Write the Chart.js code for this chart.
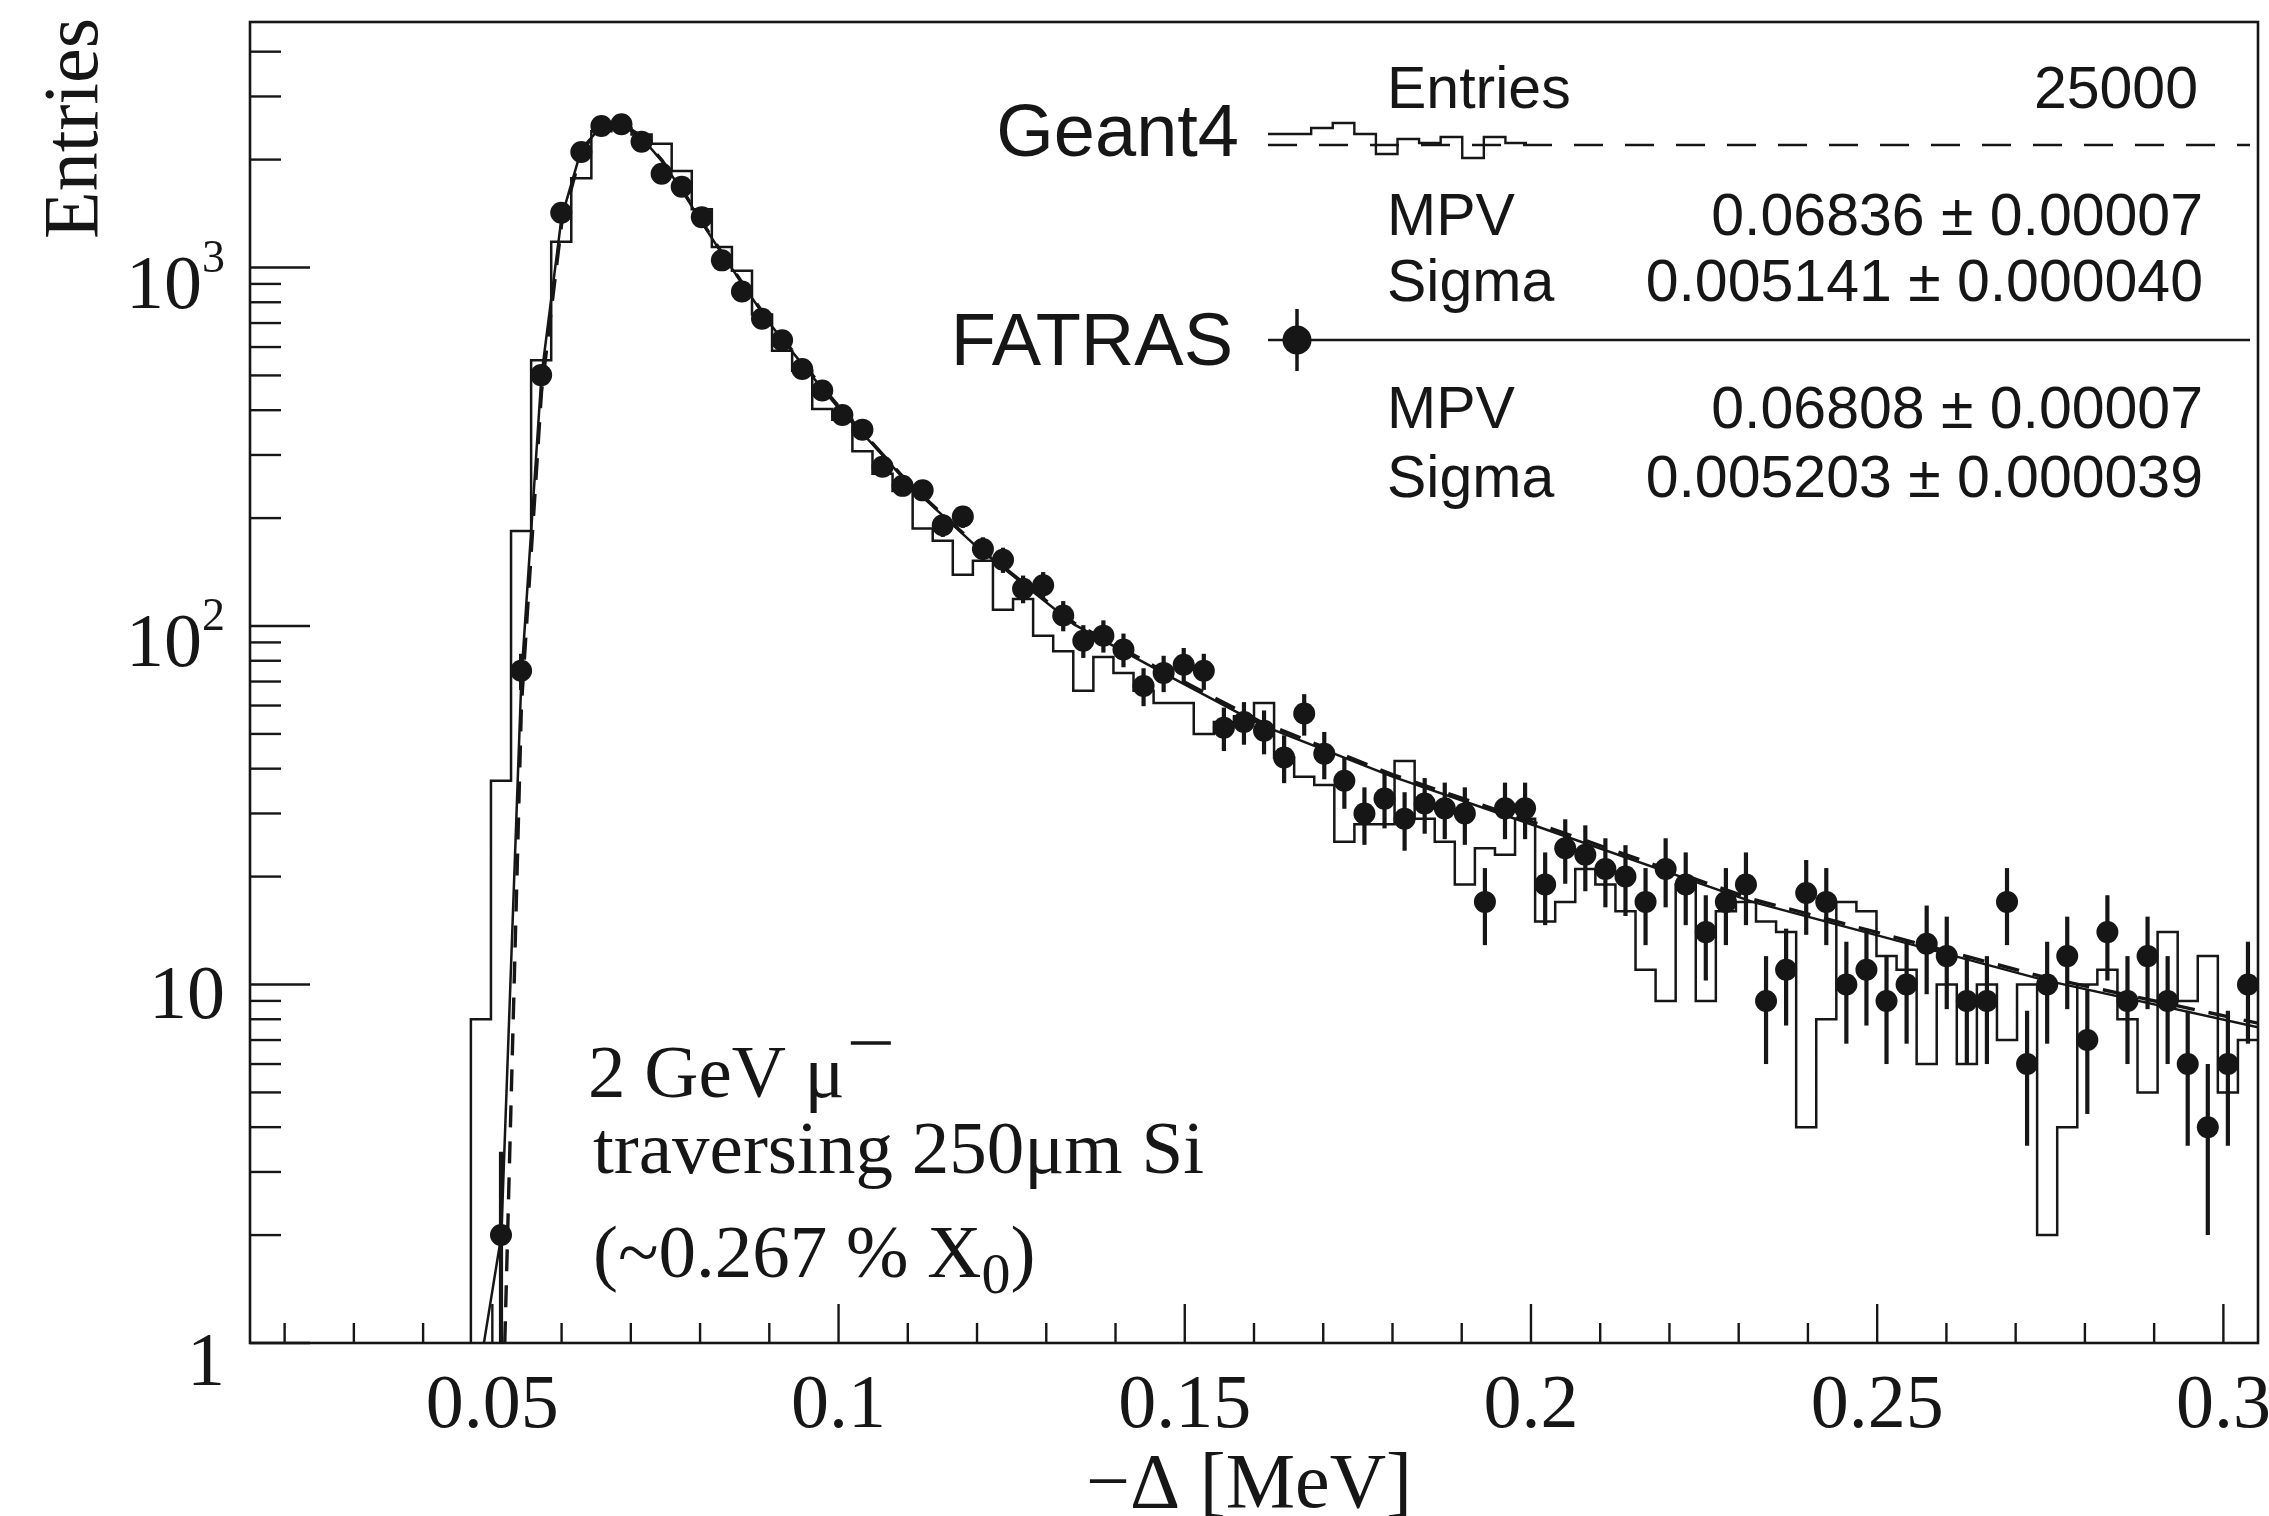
<!DOCTYPE html>
<html>
<head>
<meta charset="utf-8">
<title>Energy loss: Geant4 vs FATRAS</title>
<style>
  html,body{margin:0;padding:0;background:#fff;}
  canvas{display:block;}
</style>
<script src="https://cdn.jsdelivr.net/npm/chart.js@4.4.1/dist/chart.umd.min.js"></script>
</head>
<body>
<canvas id="landau" width="2269" height="1516" style="width:2269px;height:1516px"></canvas>
<script>
// Binning of both histograms
const xMin = 0.015, xMax = 0.305, nBins = 100;

// Geant4 histogram (entries per bin)
const geant4Counts = [
  0,0,0,0,0,0,0,0,0,0,
  0,8,37,184,551,1180,1775,2400,2450,2350,
  2215,1860,1455,1140,980,740,586,515,403,376,
  307,266,238,187,173,139,152,111,119,94,
  85,66,82,74,66,61,61,50,54,56,
  61,43,38,36,25,28,28,42,29,25,
  19,24,23,29,15,17,21,19,16,11,
  9,19,9,16,17,15,14,4,8,17,
  16,12,11,6,10,6,10,7,10,2,
  4,10,11,8,5,14,9,12,5,7
];

// FATRAS points (entries per bin)
const fatrasCounts = [
  0,0,0,0,0,0,0,0,0,0,
  0,0,2,75,501,1421,2099,2482,2510,2244,
  1827,1680,1382,1047,857,720,627,521,454,388,
  353,278,246,239,191,202,164,153,127,130,
  107,91,94,86,68,74,78,75,52,54,
  51,43,57,44,37,30,33,29,32,31,
  30,17,31,31,19,24,23,21,20,17,
  21,19,14,17,19,9,11,18,17,10,
  11,9,10,13,12,9,9,17,6,10,
  12,7,14,9,12,9,6,4,6,10
];

// Landau fit curves
const fitX      = [0.0484,0.0513,0.0542,0.0571,0.0600,0.0629,0.0658,0.0687,0.0716,0.0745,0.0774,0.0803,0.0832,0.0861,0.090,0.095,0.100,0.105,0.110,0.120,0.134,0.148,0.161,0.180,0.200,0.232,0.274,0.305];
const fitFatras = [0.9,2.0,72,500,1380,2150,2480,2500,2300,1980,1640,1330,1090,900,700,530,405,320,250,166,101,72,53,38,28,17,10.3,7.6];
const fitGeant4 = [0.2,0.43,60,450,1320,2120,2470,2520,2320,1990,1650,1340,1095,905,705,535,410,322,252,167,102,73,54,38.5,28.5,17.3,10.5,7.8];

// Axis ticks
const xTickValues = [0.05,0.1,0.15,0.2,0.25,0.3];
const xTickLabels = ['0.05','0.1','0.15','0.2','0.25','0.3'];
const yTickValues = [1,10,100,1000];
const yTickLabels = [['1',''],['10',''],['10','2'],['10','3']];
const yMax = 4840;

// Stats box text
const statsGeant4 = [['Entries','25000'],['MPV','0.06836 \u00b1 0.00007'],['Sigma','0.005141 \u00b1 0.000040']];
const statsFatras = [['MPV','0.06808 \u00b1 0.00007'],['Sigma','0.005203 \u00b1 0.000039']];
const legendStepGlyph = [-11,-11,-17,-22,-11,9,-6,-2,-8,13,-8,-2];

const SERIF = '"Liberation Serif","Times New Roman",serif';
const SANS = '"Liberation Sans",Arial,Helvetica,sans-serif';
const INK = '#161616';

const binWidth = (xMax - xMin) / nBins;
const binCenters = geant4Counts.map((_, i) => xMin + (i + 0.5) * binWidth);
const floorZero = v => (v > 0 ? v : 0.05); // empty bins sit below the log axis

const histPoints = [{x: xMin, y: floorZero(geant4Counts[0])}]
  .concat(binCenters.map((x, i) => ({x, y: floorZero(geant4Counts[i])})))
  .concat([{x: xMax, y: floorZero(geant4Counts[nBins - 1])}]);
const fatrasPoints = binCenters.map((x, i) => ({x, y: fatrasCounts[i]})).filter(p => p.y > 0);

// Poisson error bars under the FATRAS markers
const errorBars = {
  id: 'errorBars',
  beforeDatasetDraw(chart, args){
    if(chart.data.datasets[args.index].label !== 'FATRAS') return;
    const {ctx, chartArea: a, scales: {x, y}} = chart;
    ctx.save();
    ctx.beginPath();
    ctx.rect(a.left, a.top, a.right - a.left, a.bottom - a.top);
    ctx.clip();
    ctx.strokeStyle = INK;
    ctx.lineWidth = 4.2;
    fatrasPoints.forEach(p=>{
      const e = Math.sqrt(p.y);
      const px = x.getPixelForValue(p.x);
      const lo = p.y - e > 0 ? y.getPixelForValue(p.y - e) : a.bottom + 10;
      ctx.beginPath();
      ctx.moveTo(px, lo);
      ctx.lineTo(px, y.getPixelForValue(p.y + e));
      ctx.stroke();
    });
    ctx.restore();
  }
};

function line(ctx, x1, y1, x2, y2){
  ctx.beginPath(); ctx.moveTo(x1, y1); ctx.lineTo(x2, y2); ctx.stroke();
}

// ROOT-style frame, inward ticks and labels
const rootAxes = {
  id: 'rootAxes',
  afterDraw(chart){
    const {ctx, chartArea: a, scales: {x, y}} = chart;
    ctx.save();
    ctx.strokeStyle = INK;
    ctx.fillStyle = INK;
    ctx.lineWidth = 2.6;
    ctx.strokeRect(a.left, a.top, a.right - a.left, a.bottom - a.top);

    ctx.lineWidth = 2.4;
    for(let i = 2; i <= 30; i++){
      const px = x.getPixelForValue(i / 100);
      line(ctx, px, a.bottom, px, a.bottom - (i % 5 === 0 ? 39 : 20));
    }
    for(let d = 0; d <= 3; d++){
      for(let m = 1; m <= 9; m++){
        const v = m * Math.pow(10, d);
        if(v > yMax) break;
        const py = y.getPixelForValue(v);
        line(ctx, a.left, py, a.left + (m === 1 ? 60 : 31), py);
      }
    }

    ctx.font = `76px ${SERIF}`;
    ctx.textAlign = 'center';
    ctx.textBaseline = 'alphabetic';
    xTickValues.forEach((v, i)=> ctx.fillText(xTickLabels[i], x.getPixelForValue(v), 1427));

    ctx.textAlign = 'right';
    const right = 225;
    yTickValues.forEach((v, i)=>{
      const py = y.getPixelForValue(v);
      const [base, exp] = yTickLabels[i];
      if(exp){
        ctx.font = `46px ${SERIF}`;
        const ew = ctx.measureText(exp).width;
        ctx.fillText(exp, right, py + 4);
        ctx.font = `76px ${SERIF}`;
        ctx.fillText(base, right - ew, py + 40);
      }else{
        ctx.font = `76px ${SERIF}`;
        ctx.fillText(base, right, py + (v === 1 ? 42 : 33));
      }
    });

    // axis titles
    ctx.font = `78px ${SERIF}`;
    ctx.textAlign = 'center';
    ctx.fillText('\u2212\u0394 [MeV]', 1249, 1507);
    ctx.save();
    ctx.translate(97, 18);
    ctx.rotate(-Math.PI / 2);
    ctx.textAlign = 'right';
    ctx.fillText('Entries', 0, 0);
    ctx.restore();
    ctx.restore();
  }
};

// Legend + fit statistics, plus the annotation text
const statsBox = {
  id: 'statsBox',
  afterDraw(chart){
    const {ctx} = chart;
    ctx.save();
    ctx.strokeStyle = INK;
    ctx.fillStyle = INK;
    ctx.textBaseline = 'alphabetic';

    ctx.font = `74px ${SANS}`;
    ctx.textAlign = 'right';
    ctx.fillText('Geant4', 1239, 156);
    ctx.fillText('FATRAS', 1233, 365);

    // Geant4: dashed fit line with a little histogram glyph
    ctx.lineWidth = 2.4;
    ctx.setLineDash([29, 22]);
    line(ctx, 1268, 145, 2250, 145);
    ctx.setLineDash([]);
    const seg = (1527 - 1268) / legendStepGlyph.length;
    ctx.beginPath();
    legendStepGlyph.forEach((dy, i)=>{
      const x0 = 1268 + i * seg;
      if(i === 0) ctx.moveTo(x0, 145 + dy); else ctx.lineTo(x0, 145 + dy);
      ctx.lineTo(x0 + seg, 145 + dy);
    });
    ctx.stroke();

    // FATRAS: marker with error bar on a solid line
    line(ctx, 1268, 340, 2250, 340);
    ctx.lineWidth = 3.5;
    line(ctx, 1297, 309, 1297, 371);
    ctx.beginPath();
    ctx.arc(1297, 340, 14.5, 0, Math.PI * 2);
    ctx.fill();

    ctx.font = `59px ${SANS}`;
    const rows = [[statsGeant4[0], 108, 2198], [statsGeant4[1], 235, 2203], [statsGeant4[2], 301, 2203],
                  [statsFatras[0], 428, 2203], [statsFatras[1], 497, 2203]];
    rows.forEach(([[name, val], by, rx])=>{
      ctx.textAlign = 'left';
      ctx.fillText(name, 1387, by);
      ctx.textAlign = 'right';
      ctx.fillText(val, rx, by);
    });

    // annotation
    ctx.textAlign = 'left';
    ctx.font = `75px ${SERIF}`;
    ctx.fillText('2 GeV \u03bc', 588, 1097);
    const w1 = ctx.measureText('2 GeV \u03bc').width;
    ctx.fillText('traversing 250\u03bcm Si', 593, 1173);
    const t3 = '(~0.267 % X';
    ctx.fillText(t3, 593, 1277);
    const w3 = ctx.measureText(t3).width;
    // raised minus of mu-minus
    ctx.lineWidth = 3.5;
    line(ctx, 588 + w1 + 6, 1043, 588 + w1 + 46, 1043);
    ctx.font = `58px ${SERIF}`;
    ctx.fillText('0', 593 + w3, 1293);
    const w0 = ctx.measureText('0').width;
    ctx.font = `75px ${SERIF}`;
    ctx.fillText(')', 593 + w3 + w0, 1277);
    ctx.restore();
  }
};

const chart = new Chart(document.getElementById('landau'), {
  type: 'line',
  data: {
    datasets: [
      {
        label: 'FATRAS', type: 'scatter', data: fatrasPoints, order: 0,
        pointRadius: 11, pointHoverRadius: 11, pointBackgroundColor: INK, pointBorderWidth: 0,
        showLine: false, clip: 0
      },
      {
        label: 'FATRAS fit', data: fitX.map((x, i)=>({x, y: fitFatras[i]})), order: 1,
        borderColor: INK, borderWidth: 2.5, pointRadius: 0, tension: 0, clip: 0
      },
      {
        label: 'Geant4 fit', data: fitX.map((x, i)=>({x, y: fitGeant4[i]})), order: 2,
        borderColor: INK, borderWidth: 3.4, borderDash: [22, 14], pointRadius: 0, tension: 0, clip: 0
      },
      {
        label: 'Geant4', data: histPoints, order: 3, stepped: 'middle',
        borderColor: INK, borderWidth: 2.5, pointRadius: 0, clip: 0
      }
    ]
  },
  options: {
    responsive: false,
    animation: false,
    devicePixelRatio: 1,
    layout: {padding: {left: 250, right: 11, top: 22, bottom: 173}},
    scales: {
      x: {type: 'linear', min: xMin, max: xMax, display: false},
      y: {type: 'logarithmic', min: 1, max: yMax, display: false}
    },
    plugins: {legend: {display: false}, tooltip: {enabled: false}}
  },
  plugins: [errorBars, rootAxes, statsBox]
});
</script>
</body>
</html>
